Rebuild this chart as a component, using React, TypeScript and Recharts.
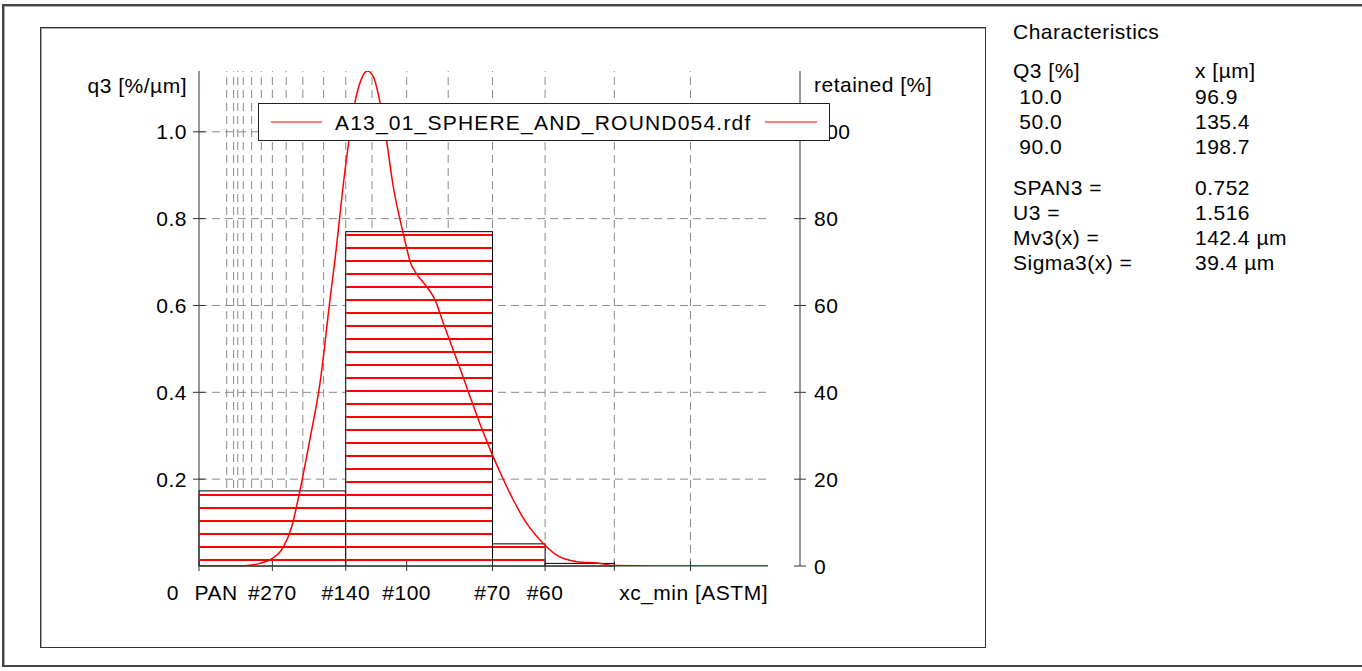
import React from 'react';
import { ComposedChart, Line, XAxis, YAxis, ReferenceLine, ReferenceArea, Legend } from 'recharts';

const FONT = '"Liberation Sans", Arial, sans-serif';
const FS = 21;

// x axis: particle size in µm, labelled with ASTM sieve numbers
const sizeMax = 411;
const gridSizes = [20, 25, 28, 32, 38, 45, 53, 63, 75, 90, 106, 125, 150, 180, 212, 250, 300, 355];
const xTicks = [0, 53, 106, 150, 212, 250, 300, 355];
const xTickLabels = ['PAN', '#270', '#140', '#100', '#70', '#60', '', ''];

const q3Max = 1.14;
const q3Ticks = [0.2, 0.4, 0.6, 0.8, 1.0];
const retainedMax = 114;
const retainedTicks = [0, 20, 40, 60, 80, 100];

// retained fractions between sieves (%)
const binFrom = [0, 106, 212, 250];
const binTo = [106, 212, 250, 300];
const binRetained = [17.3, 77.0, 5.1, 0.6];

// density distribution q3 [%/µm]
const curveX = [0, 22, 37, 44, 51, 61, 67, 73, 80, 87.4, 94.6, 98.2, 105.5, 112.7, 117.5, 121.6, 125.9, 130.7, 135.6, 140.3, 146.4, 149.5, 152.4, 157.3, 164.5, 170.5, 176.5, 183.7, 189.8, 195.8, 203, 211.4, 217.4, 227, 236.7, 248.7, 258.4, 272.8, 289.7, 299, 330, 370, 411];
const curveQ3 = [0, 0, 0.002, 0.006, 0.014, 0.044, 0.091, 0.175, 0.29, 0.421, 0.613, 0.705, 0.912, 1.069, 1.123, 1.14, 1.127, 1.069, 0.977, 0.874, 0.781, 0.739, 0.702, 0.672, 0.643, 0.613, 0.559, 0.497, 0.444, 0.39, 0.327, 0.26, 0.2165, 0.152, 0.098, 0.052, 0.025, 0.01, 0.006, 0.001, 0, 0, 0];

const seriesName = 'A13_01_SPHERE_AND_ROUND054.rdf';

// characteristics panel
const quantileQ3 = [' 10.0', ' 50.0', ' 90.0'];
const quantileX = ['96.9', '135.4', '198.7'];
const paramNames = ['SPAN3 =', 'U3 =', 'Mv3(x) =', 'Sigma3(x) ='];
const paramValues = ['0.752', '1.516', '142.4 µm', '39.4 µm'];

const curveData = curveX.map((x, i) => ({ x, q3: curveQ3[i] }));

const textStyle = { fontFamily: FONT, fontSize: FS, fill: '#000', letterSpacing: 0.5 };
const gridLine = { stroke: '#8a8a8a', strokeDasharray: '8 5', strokeWidth: 1 };

const XTick = (props: any) => {
    const { x, y, payload } = props;
    const i = xTicks.indexOf(payload.value);
    return (
        <g>
            <line x1={x} x2={x} y1={y - 10} y2={y} stroke="#333" />
            {payload.value === 0 ? (
                <>
                    <text x={x - 20} y={y + 29} textAnchor="end" style={textStyle}>0</text>
                    <text x={x + 17} y={y + 29} textAnchor="middle" style={textStyle}>{xTickLabels[i]}</text>
                </>
            ) : (
                <text x={x} y={y + 29} textAnchor="middle" style={textStyle}>{xTickLabels[i]}</text>
            )}
        </g>
    );
};

const LeftTick = (props: any) => {
    const { x, y, payload } = props;
    return (
        <g>
            <line x1={x + 6} x2={x + 18} y1={y} y2={y} stroke="#333" />
            <text x={x} y={y} dy="0.36em" textAnchor="end" style={textStyle}>{Number(payload.value).toFixed(1)}</text>
        </g>
    );
};

const RightTick = (props: any) => {
    const { x, y, payload } = props;
    return (
        <g>
            <line x1={x - 20} x2={x - 8} y1={y} y2={y} stroke="#333" />
            <text x={x} y={y} dy="0.36em" textAnchor="start" style={textStyle}>{payload.value}</text>
        </g>
    );
};

const LeftTitle = (props: any) => {
    const { x, y, width } = props.viewBox;
    return <text x={x + width - 12} y={y + 22} textAnchor="end" style={textStyle}>q3 [%/µm]</text>;
};

const RightTitle = (props: any) => {
    const { x, y } = props.viewBox;
    return <text x={x + 14} y={y + 21} textAnchor="start" style={textStyle}>retained [%]</text>;
};

const XTitle = (props: any) => {
    const { x, y, width } = props.viewBox;
    return <text x={x + width} y={y + 34} textAnchor="end" style={textStyle}>xc_min [ASTM]</text>;
};

const HatchBar = (props: any) => {
    const { x, y, width, height } = props;
    const bottom = y + height;
    const rows: number[] = [];
    for (let ly = bottom - 6; ly > y + 1; ly -= 13) rows.push(ly);
    return (
        <g>
            <rect x={x} y={y} width={width} height={height} fill="#fff" stroke="none" />
            {rows.map((ly) => (
                <line key={ly} x1={x + 0.5} x2={x + width - 0.5} y1={ly} y2={ly} stroke="#ff0000" strokeWidth={2} />
            ))}
            <rect x={x} y={y} width={width} height={height} fill="none" stroke="#000" strokeWidth={1} />
        </g>
    );
};

const LegendBox = () => (
    <svg width={572} height={38} style={{ display: 'block' }}>
        <rect x={0.5} y={0.5} width={571} height={37} fill="#fff" stroke="#222" />
        <line x1={13} x2={64} y1={19} y2={19} stroke="#ff0000" strokeWidth={1.2} />
        <text x={77} y={27} style={{ ...textStyle, letterSpacing: 1.2 }}>{seriesName}</text>
        <line x1={507} x2={559} y1={19} y2={19} stroke="#ff0000" strokeWidth={1.2} />
    </svg>
);

const frame = {
    position: 'absolute' as const,
    boxSizing: 'border-box' as const,
    border: '1px solid #333',
    boxShadow: 'inset 1px 1px 0 #aaa',
};

export default function App() {
    const panelLeft = 1013;
    const panelRight = 1195;
    return (
        <div style={{ position: 'absolute', left: 0, top: 0, width: 1362, height: 671, overflow: 'hidden', background: '#fff', fontFamily: FONT }}>
            <div style={{ ...frame, left: 2, top: 4, width: 1400, height: 663, borderWidth: 2, borderColor: '#444' }} />
            <div style={{ ...frame, left: 40, top: 27, width: 946, height: 621 }} />

            <div style={{ position: 'absolute', left: 0, top: 0 }}>
                <ComposedChart width={1000} height={671} data={curveData} margin={{ top: 71, right: 140, bottom: 65, left: 139 }}>
                    <XAxis
                        dataKey="x"
                        type="number"
                        domain={[0, sizeMax]}
                        ticks={xTicks}
                        interval={0}
                        height={40}
                        tickSize={5}
                        tickMargin={0}
                        tickLine={false}
                        tick={(p: any) => <XTick {...p} />}
                        stroke="#333"
                        label={(p: any) => <XTitle {...p} />}
                        allowDataOverflow
                    />
                    <YAxis
                        yAxisId="q3"
                        domain={[0, q3Max]}
                        ticks={q3Ticks}
                        width={60}
                        tickSize={6}
                        tickMargin={6}
                        tickLine={false}
                        tick={(p: any) => <LeftTick {...p} />}
                        stroke="#333"
                        label={(p: any) => <LeftTitle {...p} />}
                        allowDataOverflow
                    />
                    <YAxis yAxisId="gap" orientation="right" width={32} domain={[0, 1]} axisLine={false} tickLine={false} tick={false} />
                    <YAxis
                        yAxisId="pct"
                        orientation="right"
                        domain={[0, retainedMax]}
                        ticks={retainedTicks}
                        width={60}
                        tickSize={6}
                        tickMargin={8}
                        tickLine={false}
                        tick={(p: any) => <RightTick {...p} />}
                        stroke="#333"
                        label={(p: any) => <RightTitle {...p} />}
                        allowDataOverflow
                    />
                    {gridSizes.map((s) => (
                        <ReferenceLine key={`v${s}`} yAxisId="q3" x={s} {...gridLine} zIndex={-100} />
                    ))}
                    {q3Ticks.map((v) => (
                        <ReferenceLine key={`h${v}`} yAxisId="q3" y={v} {...gridLine} zIndex={-100} />
                    ))}
                    {binRetained.map((r, i) => (
                        <ReferenceArea
                            key={i}
                            yAxisId="pct"
                            x1={binFrom[i]}
                            x2={binTo[i]}
                            y1={0}
                            y2={r}
                            shape={(p: any) => <HatchBar {...p} />}
                        />
                    ))}
                    <Line
                        yAxisId="q3"
                        dataKey="q3"
                        name={seriesName}
                        type="monotone"
                        stroke="#ff0000"
                        strokeWidth={1.5}
                        dot={false}
                        activeDot={false}
                        isAnimationActive={false}
                    />
                    <Legend
                        layout="horizontal"
                        verticalAlign="middle"
                        align="center"
                        content={() => <LegendBox />}
                        wrapperStyle={{ left: 258, top: 103, width: 572, height: 38 }}
                    />
                </ComposedChart>
            </div>

            <svg width={1362} height={300} style={{ position: 'absolute', left: 0, top: 0, pointerEvents: 'none' }}>
                <text x={panelLeft} y={39} style={textStyle}>Characteristics</text>
                <text x={panelLeft} y={78} style={textStyle}>Q3 [%]</text>
                <text x={panelRight} y={78} style={textStyle}>x [µm]</text>
                {quantileQ3.map((q, i) => (
                    <g key={q}>
                        <text x={panelLeft} y={104 + i * 25} style={{ ...textStyle, whiteSpace: 'pre' }}>{q}</text>
                        <text x={panelRight} y={104 + i * 25} style={textStyle}>{quantileX[i]}</text>
                    </g>
                ))}
                {paramNames.map((n, i) => (
                    <g key={n}>
                        <text x={panelLeft} y={195 + i * 25} style={textStyle}>{n}</text>
                        <text x={panelRight} y={195 + i * 25} style={textStyle}>{paramValues[i]}</text>
                    </g>
                ))}
            </svg>
        </div>
    );
}
